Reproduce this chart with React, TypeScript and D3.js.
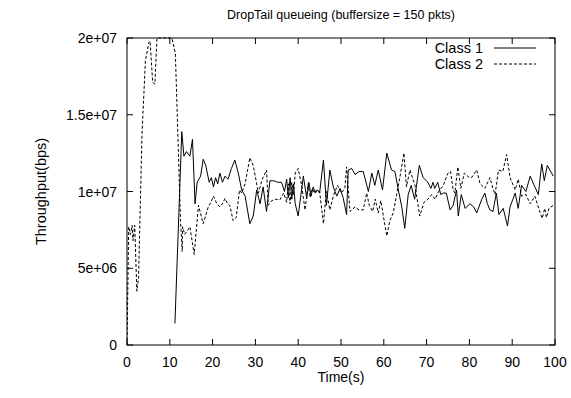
import React from "react";
import * as d3 from "d3";

const class1Time = [11.2,12.8,13.3,13.9,14.7,15.3,15.9,16.4,17.2,17.8,18.4,19.2,19.7,20.2,20.7,21.2,21.7,22.3,22.9,23.6,24.4,25.2,26.0,26.8,27.6,28.7,29.5,30.3,31.1,31.8,32.6,33.4,34.3,35.2,36.1,36.8,37.3,37.7,38.1,38.5,38.9,39.3,40.0,41.2,42.0,42.5,43.0,43.5,44.0,44.5,45.0,45.9,46.6,47.4,48.2,49.0,49.8,50.5,51.3,51.7,52.5,53.3,54.2,55.2,56.4,57.2,57.9,58.7,59.7,60.7,61.8,62.6,63.4,64.2,64.9,65.7,66.4,67.2,68.3,69.2,70.3,71.0,71.5,71.9,72.6,73.3,73.9,74.6,75.5,76.2,77.0,77.4,78.1,79.0,80.1,81.0,81.7,82.9,83.6,84.2,84.8,85.5,86.3,86.9,87.9,88.9,89.5,90.7,91.4,92.2,93.2,94.2,95.3,96.1,96.9,97.5,98.2,99.6];
const class1Mbps = [1.4,13.9,12.3,12.6,12.3,13.4,9.2,10.6,11.0,12.1,11.7,10.6,10.9,10.3,10.9,10.5,11.2,10.6,11.0,10.8,11.5,12.05,11.2,10.1,9.7,7.9,8.4,10.1,9.2,10.3,8.7,10.7,10.7,10.6,10.6,10.0,10.8,9.6,10.9,9.5,10.5,9.2,8.4,11.0,9.55,10.6,9.7,10.3,9.9,10.1,9.9,12.05,9.1,11.4,10.3,9.7,10.2,9.6,8.5,11.4,11.5,11.1,11.3,11.3,10.0,11.2,10.4,11.4,10.1,12.5,11.4,11.3,10.1,9.0,7.6,9.8,10.4,9.5,11.7,10.9,10.6,10.2,10.6,10.2,10.6,9.8,9.9,9.9,8.8,9.1,10.1,8.4,9.8,8.9,9.2,9.0,8.6,9.5,9.9,9.2,8.8,8.7,9.9,8.5,8.9,7.75,9.0,9.9,8.9,10.4,10.0,11.0,10.3,9.8,11.8,10.7,11.7,11.0];

const class2Time = [0,0.4,0.8,1.2,1.4,1.8,2.3,2.7,3.5,4.3,5.1,5.4,6.0,6.5,7.0,8,9,10.5,11.3,12.5,12.9,13.0,13.5,14.7,15.7,16.7,17.8,19.0,19.6,20.2,21.0,21.7,22.3,22.9,23.5,24.0,24.8,25.5,26.3,26.8,27.6,28.7,29.5,30.7,31.6,32.6,33.0,33.8,34.7,35.7,36.6,37.3,37.7,38.1,38.5,38.9,39.3,40.0,40.8,41.6,42.3,42.8,43.3,43.8,44.3,45.0,45.9,46.6,47.4,48.3,49.2,50.1,50.9,51.3,52.1,53.3,54.2,55.2,56.0,56.6,57.4,58.0,58.7,59.3,59.9,60.7,61.4,62.2,63.0,63.8,64.7,65.3,66.1,67.3,68.4,69.4,70.3,71.2,72.0,72.8,73.9,75.0,75.6,76.2,76.6,77.3,78.0,78.8,80.0,80.5,81.7,82.5,83.6,84.8,85.5,86.0,86.8,87.8,88.7,89.5,90.7,91.4,92.2,93.2,94.2,95.3,96.3,97.0,97.6,98.0,98.6,99.6];
const class2Mbps = [0,7.7,7.2,7.8,6.8,7.8,3.5,4.4,13.7,18.5,19.7,19.8,17.1,17.0,20,20,20,20,19,8.1,6.1,7.7,7.2,7.7,5.9,9.1,7.9,9.0,9.3,9.7,9.2,9.0,9.2,9.55,9.2,9.1,8.1,8.3,10.1,9.9,10.5,12.2,11.7,9.9,10.8,11.4,9.1,9.4,9.5,9.45,9.9,9.3,10.5,9.2,10.6,9.8,11.2,11.5,10.4,8.8,10.5,9.6,10.2,9.9,10.1,10.0,7.9,10.0,8.8,9.8,10.4,9.9,10.2,11.6,8.7,9.0,8.8,8.8,9.9,9.1,8.7,9.5,8.6,9.4,8.4,7.1,8.1,8.6,9.8,11.0,12.5,10.3,11.4,10.4,8.4,9.3,9.5,9.8,9.5,10.0,10.4,11.2,11.3,10.1,9.9,11.6,10.2,11.2,10.9,10.9,11.4,10.5,10.2,10.9,10.2,9.8,11.4,11.3,12.4,10.9,10.1,10.8,9.7,9.8,9.2,9.7,8.8,8.25,8.9,8.3,8.9,9.1];

const xTicks = [0,10,20,30,40,50,60,70,80,90,100];
const yTicks = [0,5e6,1e7,1.5e7,2e7];
const yTickLabels = ["0","5e+06","1e+07","1.5e+07","2e+07"];
const seriesNames = ["Class 1","Class 2"];

const W = 571, H = 398;
const L = 127, R = 555, T = 38, B = 345;
const FONT = "'Liberation Sans', Arial, Helvetica, sans-serif";

export default function App() {
  const x = d3.scaleLinear().domain([0, 100]).range([L, R]);
  const y = d3.scaleLinear().domain([0, 2e7]).range([B, T]);
  const line = d3.line<[number, number]>().x(d => x(d[0])).y(d => y(d[1]));
  const s1 = class1Time.map((t, i) => [t, class1Mbps[i] * 1e6] as [number, number]);
  const s2 = class2Time.map((t, i) => [t, class2Mbps[i] * 1e6] as [number, number]);
  const tl = 6;
  return (
    <svg width={W} height={H} style={{ position: "absolute", left: 0, top: 0, background: "#fff" }} fontFamily={FONT}>
      <rect x={0} y={0} width={W} height={H} fill="#fff" />
      <text x={(L + R) / 2} y={19} textAnchor="middle" fontSize={12.5}>DropTail queueing (buffersize = 150 pkts)</text>
      <defs>
        <clipPath id="clip"><rect x={L} y={T - 1} width={R - L} height={B - T + 2} /></clipPath>
      </defs>
      <g clipPath="url(#clip)">
        <path d={line(s2) || ""} fill="none" stroke="#000" strokeWidth={1} strokeDasharray="3,2" />
        <path d={line(s1) || ""} fill="none" stroke="#000" strokeWidth={1} />
      </g>
      {xTicks.map(t => (
        <g key={"x" + t}>
          <line x1={x(t)} x2={x(t)} y1={B} y2={B - tl} stroke="#000" />
          <line x1={x(t)} x2={x(t)} y1={T} y2={T + tl} stroke="#000" />
          <text x={x(t)} y={367} textAnchor="middle" fontSize={14}>{t}</text>
        </g>
      ))}
      {yTicks.map((v, i) => (
        <g key={"y" + i}>
          <line x1={L} x2={L + tl} y1={y(v)} y2={y(v)} stroke="#000" />
          <line x1={R} x2={R - tl} y1={y(v)} y2={y(v)} stroke="#000" />
          <text x={117} y={y(v) + 5} textAnchor="end" fontSize={14}>{yTickLabels[i]}</text>
        </g>
      ))}
      <rect x={L} y={T} width={R - L} height={B - T} fill="none" stroke="#000" strokeWidth={1} />
      <text x={(L + R) / 2} y={382} textAnchor="middle" fontSize={14}>Time(s)</text>
      <text transform={`translate(46,${(T + B) / 2}) rotate(-90)`} textAnchor="middle" fontSize={14.5}>Throughput(bps)</text>
      {seriesNames.map((n, i) => (
        <g key={n}>
          <text x={483} y={53 + i * 16} textAnchor="end" fontSize={14.5}>{n}</text>
          <line x1={494} x2={536} y1={48 + i * 16} y2={48 + i * 16} stroke="#000" strokeDasharray={i === 1 ? "3,2" : undefined} />
        </g>
      ))}
    </svg>
  );
}
